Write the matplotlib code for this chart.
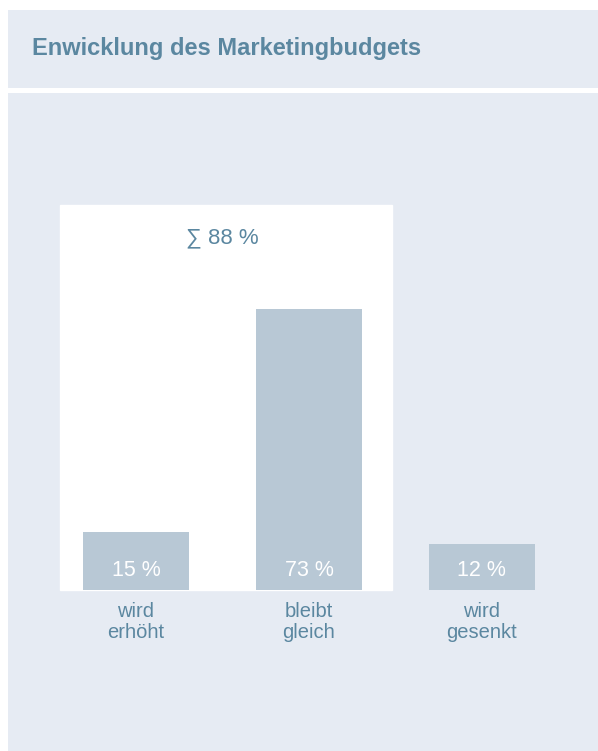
import matplotlib
matplotlib.use('Agg')
import matplotlib.pyplot as plt
from matplotlib.patches import Rectangle

###############################################################################
# Data
categories = ['wird\nerhöht', 'bleibt\ngleich', 'wird\ngesenkt']
values = [15, 73, 12]
sum_total = 88
title = 'Enwicklung des Marketingbudgets'

panel_color = '#e6ebf3'
bar_color = '#b8c8d5'
text_color = '#5b87a0'
plt.rcParams['font.family'] = ['Liberation Sans', 'DejaVu Sans']

W, H = 598, 751
fig = plt.figure(figsize=(W / 100, H / 100), dpi=100)
fig.patch.set_facecolor('white')


def px_axes(x0, y0, x1, y1):
    # axes placed by pixel box (top-left origin)
    return fig.add_axes([x0 / W, 1 - y1 / H, (x1 - x0) / W, (y1 - y0) / H])


###############################################################################
# Title band
tax = px_axes(8, 10, 598, 88)
tax.set_xlim(0, 1)
tax.set_ylim(0, 1)
tax.axis('off')
tax.add_patch(Rectangle((0, 0), 1, 1, color=panel_color, zorder=0))
tax.text(24 / 590, 0.5, title, color=text_color, fontsize=17,
         fontweight='bold', va='center', ha='left')

###############################################################################
# Main panel with bars
ax = px_axes(8, 93, 598, 751)
ax.set_facecolor(panel_color)
ax.set_xlim(-0.740, 2.671)
ax.set_ylim(-41.8, 129.1)
for s in ax.spines.values():
    s.set_visible(False)
ax.set_xticks([])
ax.set_yticks([])

# white background behind the first two bars (sum 88 %)
ax.add_patch(Rectangle((-0.439, 0), 1.919, 100, color='white', zorder=1))

x = range(len(values))
ax.bar(x, values, width=0.613, color=bar_color, zorder=2)

for i, v in enumerate(values):
    ax.text(i, 5.2, f'{v} %', color='white', fontsize=15.5,
            ha='center', va='center', zorder=3)
    ax.text(i, -8.2, categories[i], color=text_color, fontsize=14.5,
            ha='center', va='center', linespacing=1.15, zorder=3)

ax.text(0.5, 91.4, f'\u2211 {sum_total} %', color=text_color, fontsize=16,
        ha='center', va='center', zorder=3)

fig.savefig('out.png', dpi=100)
